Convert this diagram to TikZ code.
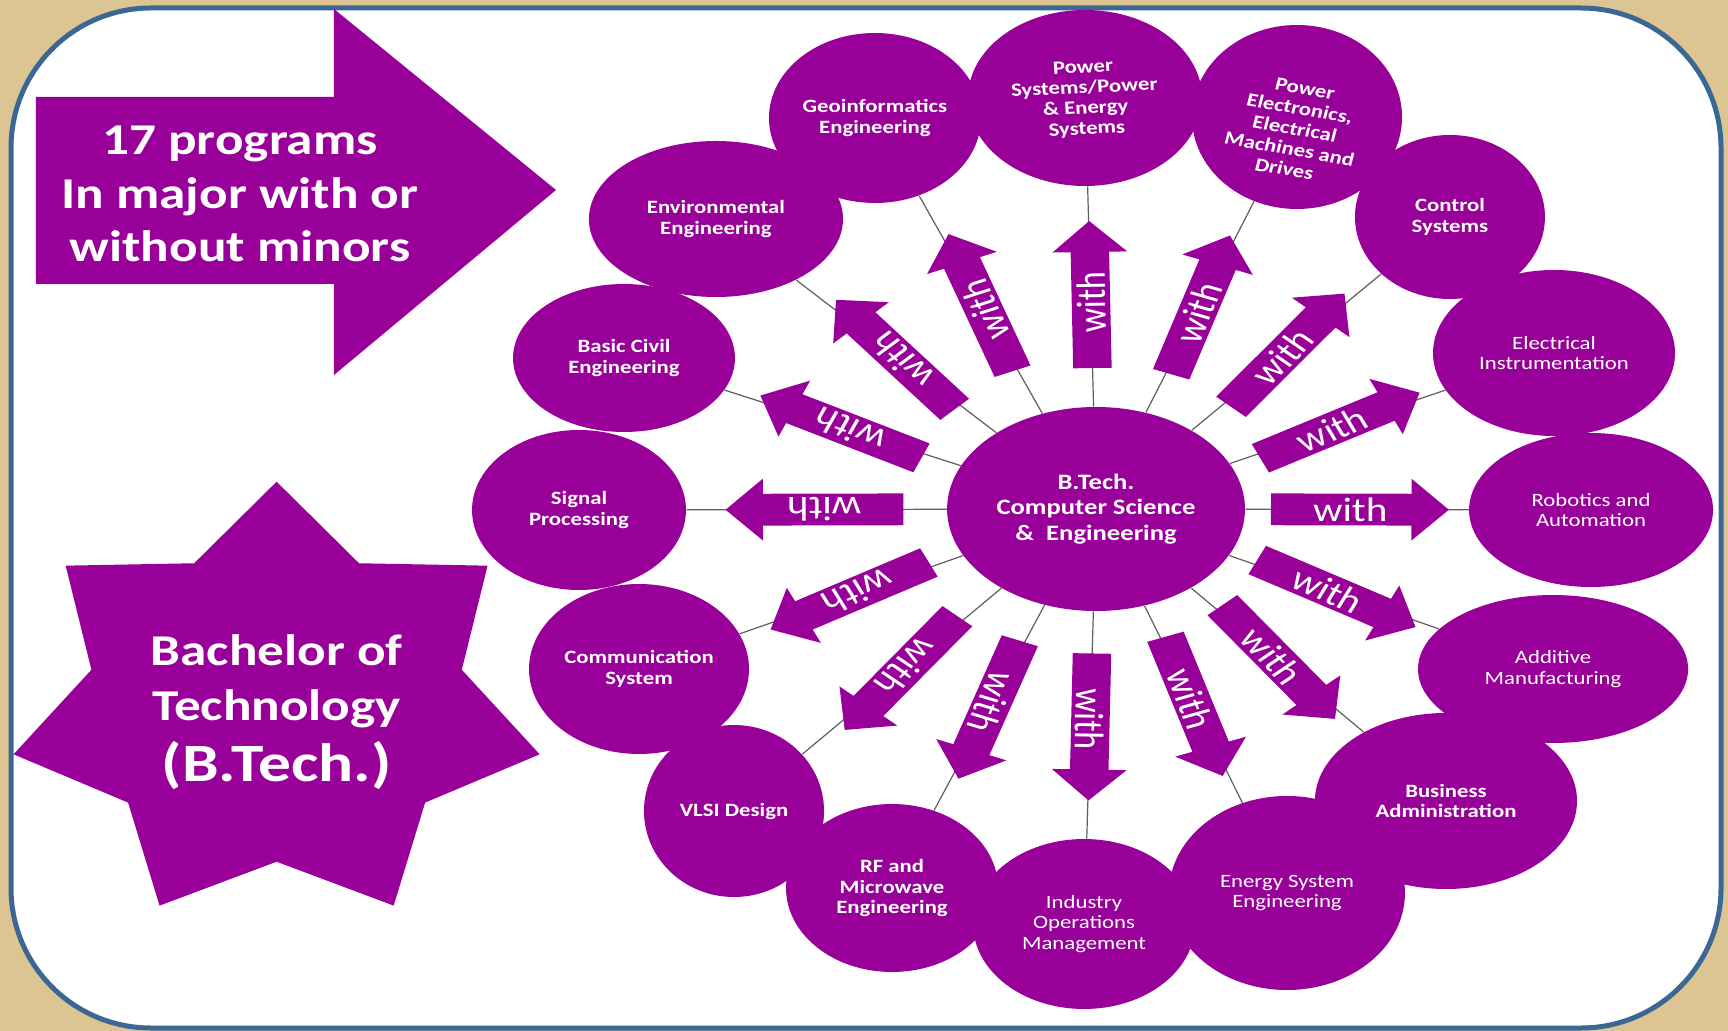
\documentclass[tikz,border=0pt]{standalone}
\usepackage{fontspec}
\setmainfont{Carlito}
\usetikzlibrary{shapes.geometric,shapes.arrows,calc}
\definecolor{purp}{HTML}{990099}
\definecolor{tanbg}{HTML}{DCC592}
\definecolor{frameblue}{HTML}{3B6794}
\definecolor{conngray}{HTML}{5E5E5E}
\begin{document}
\begin{tikzpicture}[x=0.5pt,y=-0.5pt,
  oval/.style={ellipse, fill=purp, text=white, inner sep=0pt, align=center,
    font=\bfseries\fontsize{9.4}{10.3}\selectfont},
  ovalr/.style={oval, font=\fontsize{9.4}{10.3}\selectfont},
  ovtxt/.style={text=white, inner sep=0pt, align=center, font=\bfseries\fontsize{9.4}{10.3}\selectfont},
  conn/.style={draw=conngray, line width=0.6pt},
  warrow/.style={single arrow, fill=purp, text=white, inner ysep=1.65pt, inner xsep=0pt,
    text height=12.2pt, text depth=0pt, minimum height=73.5pt,
    single arrow head extend=7.5pt, single arrow tip angle=90, single arrow head indent=0pt,
    font=\fontsize{17}{17}\selectfont},
  bigtxt/.style={text=white, align=center, inner sep=0pt},
]
% background and frame
\fill[tanbg] (0,0) rectangle (1728,1031);
\draw[frameblue, line width=2.5pt, fill=white, rounded corners=70pt] (11,8) rectangle (1721,1028);

\begin{scope}[xscale=1.21, transform shape]
% top-left block arrow
\fill[purp] (29.75,97) -- (276,97) -- (276,9) -- (459.5,190) -- (276,375) -- (276,284) -- (29.75,284) -- cycle;
\node[bigtxt, font=\bfseries\fontsize{22}{26.7}\selectfont] (prog) at (198.3,194)
  {17 programs\\In major with or\\without minors};

% seven-pointed star
\fill[purp] (228.6,481.7)
  \foreach \k in {0,...,6} {
    -- ({228.6+157*sin((\k+0.5)*360/7)},{704.7-157*cos((\k+0.5)*360/7)})
    -- ({228.6+223*sin((\k+1)*360/7)},{704.7-223*cos((\k+1)*360/7)})
  } -- cycle;
\node[bigtxt, font=\bfseries\fontsize{22}{27.5}\selectfont] (btech) at (228.6,712)
  {Bachelor of\\Technology\\[3pt]{\fontsize{27}{30}\selectfont (B.Tech.)}};

% central ellipse
\node[oval, minimum width=123.1pt, minimum height=102pt,
  font=\bfseries\fontsize{11}{12.7}\selectfont] (c) at (905.8,509)
  {B.Tech.\\Computer Science\\\&\ \ Engineering};

% outer ellipses
\node[oval, minimum width=105pt,   minimum height=78pt] (env)  at (591.7,219) {Environmental\\Engineering};
\node[oval, minimum width=87.6pt,  minimum height=85pt] (geo)  at (723.1,118) {Geoinformatics\\Engineering};
\node[oval, minimum width=96.7pt,  minimum height=88pt] (pws)  at (896.7,98)  {};
\node[oval, minimum width=86.8pt,  minimum height=92pt] (pel)  at (1071.9,117) {};
\node[oval, minimum width=78.5pt,  minimum height=82pt] (ctl)  at (1198.3,217) {Control\\Systems};
\node[ovalr, minimum width=100pt,  minimum height=83pt] (ein)  at (1284.3,353) {Electrical\\Instrumentation};
\node[ovalr, minimum width=100.8pt,minimum height=77pt] (rob)  at (1314.9,510) {Robotics and\\Automation};
\node[ovalr, minimum width=111.6pt,minimum height=74pt] (add)  at (1283.5,669) {Additive\\Manufacturing};
\node[oval, minimum width=108.3pt, minimum height=88pt] (bus)  at (1195.0,801) {Business\\Administration};
\node[ovalr, minimum width=97.5pt, minimum height=97pt] (ene)  at (1063.6,893) {Energy System\\Engineering};
\node[ovalr, minimum width=91.7pt, minimum height=85pt] (ind)  at (895.9,924)  {Industry\\Operations\\Management};
\node[oval, minimum width=87.6pt,  minimum height=84pt] (rf)   at (737.2,888)  {RF and\\Microwave\\Engineering};
\node[oval, minimum width=74.4pt,  minimum height=86pt] (vlsi) at (606.6,811)  {VLSI Design};
\node[oval, minimum width=90.9pt,  minimum height=85pt] (com)  at (528.1,669)  {Communication\\System};
\node[oval, minimum width=88.4pt,  minimum height=80pt] (sig)  at (478.5,510)  {Signal\\Processing};
\node[oval, minimum width=91.7pt,  minimum height=74pt] (civ)  at (515.7,358)  {Basic Civil\\Engineering};

% texts set apart from their ellipse centre
\node[ovtxt, rotate=3] (pwst) at (896.7,99) {Power\\Systems/Power\\\& Energy\\Systems};
\node[ovtxt, rotate=-12] (pelt) at (1070,129) {Power\\Electronics,\\Electrical\\Machines and\\Drives};

% connectors with "with" arrows
\foreach \o in {env,geo,pws,pel,ctl,ein,rob,add,bus,ene,ind,rf,vlsi,com,sig,civ} {
  \draw[conn] (c) -- (\o) coordinate[pos=0.5] (m\o);
  \path let \p1=($(\o)-(c)$) in
    node[warrow, rotate={atan2(\y1,\x1/1.21)}] (w\o) at ($(m\o)!3pt!(c)$) {with};
}
\end{scope}
\end{tikzpicture}
\end{document}
